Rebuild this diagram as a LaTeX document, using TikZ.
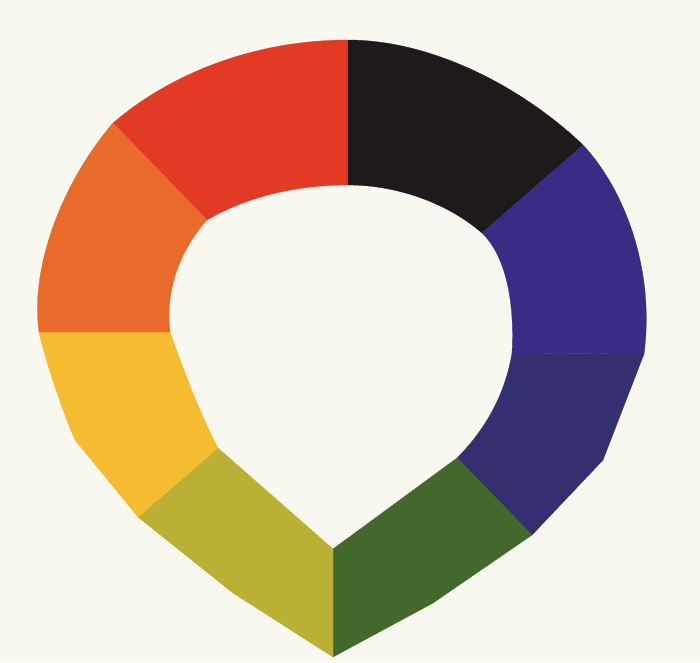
\documentclass[tikz,border=0pt]{standalone}
\begin{document}
\begin{tikzpicture}[x=1pt,y=-1pt,line join=round]
\definecolor{bg}{RGB}{249,248,240}
\definecolor{cred}{RGB}{226,58,36}
\definecolor{corange}{RGB}{234,106,44}
\definecolor{cyellow}{RGB}{245,188,50}
\definecolor{colive}{RGB}{186,176,52}
\definecolor{cgreen}{RGB}{66,104,44}
\definecolor{cblueL}{RGB}{52,47,110}
\definecolor{cblueU}{RGB}{58,43,132}
\definecolor{cblack}{RGB}{30,26,28}
\tikzset{seg/.style={draw=#1,fill=#1,line width=0.3pt}}
\useasboundingbox (0,0) rectangle (700,662);
\fill[bg] (0,0) rectangle (700,662);
% shared vertices
\coordinate (oRO) at (113,123);
\coordinate (iRO) at (207,220);
\coordinate (oRK) at (348,40);
\coordinate (iRK) at (348,185);
\coordinate (oKB) at (583,145);
\coordinate (iKB) at (482,233);
\coordinate (oBB) at (644,354);
\coordinate (iBB) at (512,353);
\coordinate (oBG) at (532,535);
\coordinate (iBG) at (457,458);
\coordinate (oGO) at (333,657);
\coordinate (iGO) at (333,549);
\coordinate (oOY) at (138,517);
\coordinate (iOY) at (218,448);
\coordinate (oYO) at (39,332);
\coordinate (iYO) at (170,332);
% red
\path[seg=cred] (oRO) .. controls (175,70) and (260,40) .. (oRK)
  -- (iRK) .. controls (300,185) and (250,195) .. (iRO) -- cycle;
% black
\path[seg=cblack] (oRK) .. controls (430,40) and (520,85) .. (oKB)
  -- (iKB) .. controls (450,205) and (400,185) .. (iRK) -- cycle;
% upper blue
\path[seg=cblueU] (oKB) .. controls (625,190) and (655,270) .. (oBB)
  -- (iBB) .. controls (515,300) and (505,255) .. (iKB) -- cycle;
% lower blue
\path[seg=cblueL] (oBB) -- (603,460) -- (oBG)
  -- (iBG) .. controls (485,430) and (505,395) .. (iBB) -- cycle;
% green
\path[seg=cgreen] (oBG) -- (433,603) -- (oGO) -- (iGO) -- (iBG) -- cycle;
% olive
\path[seg=colive] (oGO) -- (233,593) -- (oOY) -- (iOY) -- (iGO) -- cycle;
% yellow
\path[seg=cyellow] (oOY) -- (75,440) .. controls (62,410) and (45,360) .. (oYO)
  -- (iYO) .. controls (180,360) and (198,410) .. (iOY) -- cycle;
% orange
\path[seg=corange] (oYO) .. controls (30,270) and (60,185) .. (oRO)
  -- (iRO) .. controls (180,250) and (165,290) .. (iYO) -- cycle;
\end{tikzpicture}
\end{document}
